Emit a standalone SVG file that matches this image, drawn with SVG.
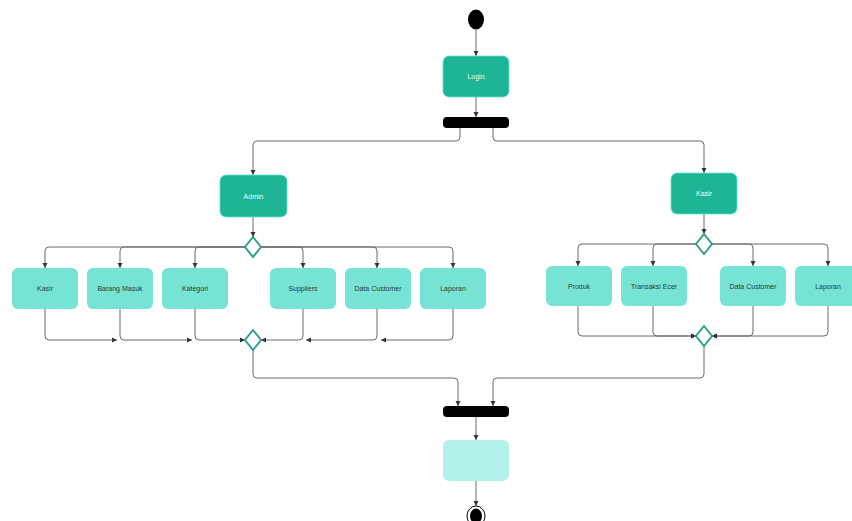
<svg xmlns="http://www.w3.org/2000/svg" width="852" height="521" viewBox="0 0 852 521">
<defs>
<marker id="arr" markerWidth="6" markerHeight="6" refX="5" refY="3" orient="auto" markerUnits="userSpaceOnUse">
<path d="M0,0.5 L5,3 L0,5.5 Z" fill="#333"/>
</marker>
<style>
.c{fill:none;stroke:#6b6b6b;stroke-width:1;}
.ca{fill:none;stroke:#6b6b6b;stroke-width:1;marker-end:url(#arr);}
.dark{fill:#1db595;stroke:#5fe3d0;stroke-width:0.8;}
.light{fill:#76e3d4;}
.pale{fill:#b3f2ea;}
.bar{fill:#000;}
.dia{fill:#fff;stroke:#2f9e8a;stroke-width:2;}
.tw{font-family:"Liberation Sans",Arial,sans-serif;font-size:7px;fill:#e8fffb;text-anchor:middle;}
.td{font-family:"Liberation Sans",Arial,sans-serif;font-size:7px;fill:#2a3a40;text-anchor:middle;}
</style>
</defs>
<rect width="852" height="521" fill="#fff"/>
<g id="connectors">
<path class="ca" d="M476,30 V56"/>
<path class="ca" d="M476,97 V117"/>
<path class="ca" d="M460,128 V137 Q460,141 456,141 H257 Q253,141 253,145 V175"/>
<path class="ca" d="M493,128 V137 Q493,141 497,141 H700 Q704,141 704,145 V173"/>
<path class="ca" d="M253,217 V237"/>
<path class="ca" d="M245,247 H49 Q45,247 45,251 V268"/>
<path class="ca" d="M245,247 H124 Q120,247 120,251 V268"/>
<path class="ca" d="M245,247 H199 Q195,247 195,251 V268"/>
<path class="ca" d="M261,247 H299 Q303,247 303,251 V268"/>
<path class="ca" d="M261,247 H373 Q377,247 377,251 V268"/>
<path class="ca" d="M261,247 H449 Q453,247 453,251 V268"/>
<path class="ca" d="M45,309 V336 Q45,340 49,340 H117"/>
<path class="ca" d="M120,309 V336 Q120,340 124,340 H192"/>
<path class="ca" d="M195,309 V336 Q195,340 199,340 H245"/>
<path class="ca" d="M303,309 V336 Q303,340 299,340 H261"/>
<path class="ca" d="M377,309 V336 Q377,340 373,340 H306"/>
<path class="ca" d="M453,309 V336 Q453,340 449,340 H381"/>
<path class="ca" d="M253,350 V374 Q253,378 257,378 H454 Q458,378 458,382 V406"/>
<path class="ca" d="M704,346 V374 Q704,378 700,378 H497 Q493,378 493,382 V406"/>
<path class="ca" d="M476,417 V440"/>
<path class="ca" d="M476,481 V506"/>
<path class="ca" d="M704,214 V234"/>
<path class="ca" d="M696,244 H582 Q578,244 578,248 V266"/>
<path class="ca" d="M696,244 H657 Q653,244 653,248 V266"/>
<path class="ca" d="M712,244 H749 Q753,244 753,248 V266"/>
<path class="ca" d="M712,244 H824 Q828,244 828,248 V266"/>
<path class="ca" d="M578,306 V332 Q578,336 582,336 H696"/>
<path class="ca" d="M653,306 V332 Q653,336 657,336 H696"/>
<path class="ca" d="M753,306 V332 Q753,336 749,336 H712"/>
<path class="ca" d="M828,306 V332 Q828,336 824,336 H712"/>
</g>
<g id="start"><ellipse cx="476" cy="19.5" rx="8" ry="10" fill="#000"/></g>
<g id="login"><rect class="dark" x="443" y="56" width="66" height="41" rx="6"/><text class="tw" x="476" y="79">Login</text></g>
<g id="fork1"><rect class="bar" x="443" y="117" width="66" height="11" rx="4"/></g>
<g id="admin"><rect class="dark" x="220" y="175" width="67" height="42" rx="6"/><text class="tw" x="253.5" y="198.5">Admin</text></g>
<g id="kasir-role"><rect class="dark" x="671" y="173" width="66" height="41" rx="6"/><text class="tw" x="704" y="196">Kasir</text></g>
<g id="dec-admin"><path class="dia" d="M253,237 L261,247 L253,257 L245,247 Z"/></g>
<g id="dec-kasir"><path class="dia" d="M704,234 L712,244 L704,254 L696,244 Z"/></g>
<g id="a-kasir"><rect class="light" x="12" y="268" width="66" height="41" rx="6"/><text class="td" x="45" y="291">Kasir</text></g>
<g id="a-barang"><rect class="light" x="87" y="268" width="66" height="41" rx="6"/><text class="td" x="120" y="291">Barang Masuk</text></g>
<g id="a-kategori"><rect class="light" x="162" y="268" width="66" height="41" rx="6"/><text class="td" x="195" y="291">Kategori</text></g>
<g id="a-suppliers"><rect class="light" x="270" y="268" width="66" height="41" rx="6"/><text class="td" x="303" y="291">Suppliers</text></g>
<g id="a-customer"><rect class="light" x="345" y="268" width="66" height="41" rx="6"/><text class="td" x="378" y="291">Data Customer</text></g>
<g id="a-laporan"><rect class="light" x="420" y="268" width="66" height="41" rx="6"/><text class="td" x="453" y="291">Laporan</text></g>
<g id="k-produk"><rect class="light" x="546" y="266" width="66" height="40" rx="6"/><text class="td" x="579" y="288.5">Produk</text></g>
<g id="k-transaksi"><rect class="light" x="621" y="266" width="66" height="40" rx="6"/><text class="td" x="654" y="288.5">Transaksi Ecer</text></g>
<g id="k-customer"><rect class="light" x="720" y="266" width="66" height="40" rx="6"/><text class="td" x="753" y="288.5">Data Customer</text></g>
<g id="k-laporan"><rect class="light" x="795" y="266" width="66" height="40" rx="6"/><text class="td" x="828" y="288.5">Laporan</text></g>
<g id="merge-admin"><path class="dia" d="M253,330 L261,340 L253,350 L245,340 Z"/></g>
<g id="merge-kasir"><path class="dia" d="M704,326 L712,336 L704,346 L696,336 Z"/></g>
<g id="join"><rect class="bar" x="443" y="406" width="66" height="11" rx="4"/></g>
<g id="final-box"><rect class="pale" x="443" y="440" width="66" height="41" rx="6"/></g>
<g id="end"><ellipse cx="476" cy="516" rx="9" ry="10" fill="#fff" stroke="#000" stroke-width="1"/><ellipse cx="476" cy="516" rx="6" ry="7.5" fill="#000"/></g>
</svg>
